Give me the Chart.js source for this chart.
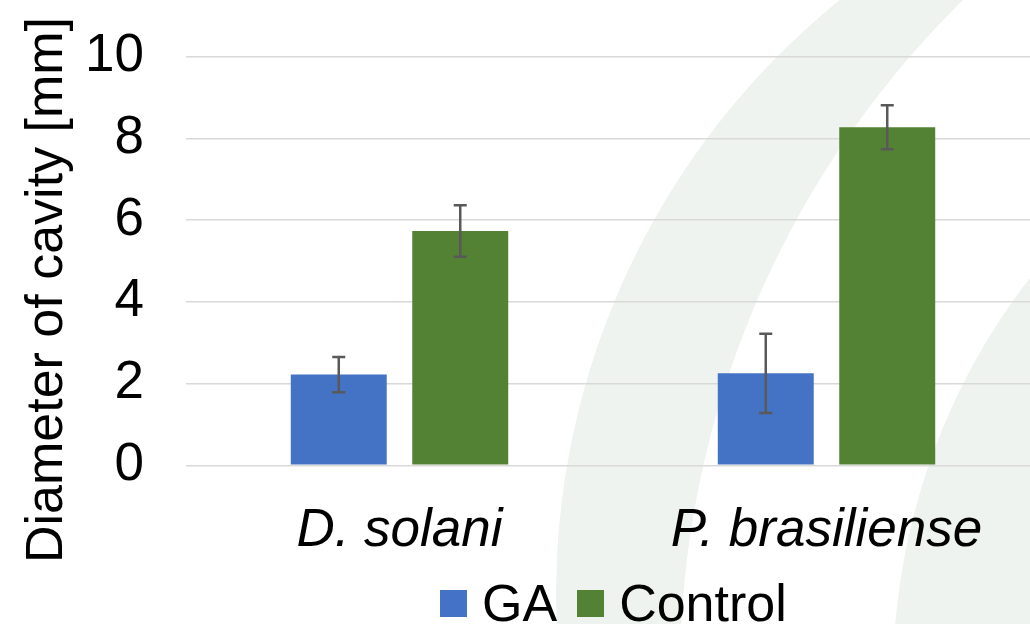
<!DOCTYPE html>
<html>
<head>
<meta charset="utf-8">
<script src="https://cdn.jsdelivr.net/npm/chart.js@4.4.1/dist/chart.umd.min.js"></script>
<style>
  html, body { margin: 0; padding: 0; background: #fff; width: 1030px; height: 624px; overflow: hidden; }
  #wrap { position: relative; width: 1040px; height: 624px; }
  #legend {
    position: absolute; left: 440px; top: 573px;
    display: flex; align-items: center;
    font-family: "Liberation Sans", Arial, sans-serif; font-size: 52px; line-height: 60px; color: #000;
  }
  #legend .item { display: flex; align-items: center; margin-right: 20px; }
  #legend .box { width: 27px; height: 27px; margin-right: 15px; }
</style>
</head>
<body>
<div id="wrap">
  <canvas id="chart" width="1040" height="624"></canvas>
  <div id="legend"></div>
</div>
<script>
// Cavity diameters (mm), mean and standard deviation per treatment
const categories = ['D. solani', 'P. brasiliense'];
const seriesNames = ['GA', 'Control'];
const gaMeans = [2.22, 2.25];
const gaErrors = [0.43, 0.97];
const controlMeans = [5.73, 8.27];
const controlErrors = [0.63, 0.54];
const yTicks = [0, 2, 4, 6, 8, 10];
const axisTitle = 'Diameter of cavity [mm]';

const seriesColors = ['#4472C4', '#548235'];
const errorSets = [gaErrors, controlErrors];
const FONT = '"Liberation Sans", Arial, sans-serif';

// Soft decorative arcs behind the plot
const backdrop = {
  id: 'backdrop',
  beforeDraw(chart) {
    const ctx = chart.ctx;
    ctx.save();
    ctx.fillStyle = '#ffffff';
    ctx.fillRect(0, 0, chart.width, chart.height);
    ctx.fillStyle = '#eef3ef';
    // crescent: inside the outer circle, outside the inner one
    ctx.save();
    ctx.beginPath();
    ctx.arc(1320, 594, 764, 0, Math.PI * 2);
    ctx.clip();
    ctx.beginPath();
    ctx.arc(1320, 594, 764, 0, Math.PI * 2);
    ctx.arc(1624, 674, 944, 0, Math.PI * 2);
    ctx.fill('evenodd');
    ctx.restore();
    // lower-right disc
    ctx.beginPath();
    ctx.arc(1547, 678, 654, 0, Math.PI * 2);
    ctx.fill();
    ctx.restore();
  }
};

// Standard-deviation whiskers on each bar
const errorBars = {
  id: 'errorBars',
  afterDatasetsDraw(chart) {
    const ctx = chart.ctx;
    const y = chart.scales.y;
    ctx.save();
    ctx.strokeStyle = '#595959';
    ctx.lineWidth = 2.5;
    chart.data.datasets.forEach((ds, i) => {
      const meta = chart.getDatasetMeta(i);
      meta.data.forEach((bar, j) => {
        const v = ds.data[j], e = errorSets[i][j];
        const top = y.getPixelForValue(v + e);
        const bot = y.getPixelForValue(v - e);
        const x = bar.x, cap = 6.5;
        ctx.beginPath();
        ctx.moveTo(x, top); ctx.lineTo(x, bot);
        ctx.moveTo(x - cap, top); ctx.lineTo(x + cap, top);
        ctx.moveTo(x - cap, bot); ctx.lineTo(x + cap, bot);
        ctx.stroke();
      });
    });
    ctx.restore();
  }
};

// Rotated value-axis caption
const yCaption = {
  id: 'yCaption',
  afterDraw(chart) {
    const ctx = chart.ctx;
    ctx.save();
    ctx.translate(62, 290);
    ctx.rotate(-Math.PI / 2);
    ctx.font = '52px ' + FONT;
    ctx.fillStyle = '#000';
    ctx.textAlign = 'center';
    ctx.textBaseline = 'alphabetic';
    ctx.fillText(axisTitle, 0, 0);
    ctx.restore();
  }
};

const chart = new Chart(document.getElementById('chart'), {
  type: 'bar',
  data: {
    labels: categories,
    datasets: [
      { label: seriesNames[0], data: gaMeans, backgroundColor: seriesColors[0] },
      { label: seriesNames[1], data: controlMeans, backgroundColor: seriesColors[1] }
    ]
  },
  options: {
    responsive: false,
    animation: false,
    layout: { padding: { top: 56.6, left: 0, right: 0, bottom: 0 } },
    datasets: { bar: { categoryPercentage: 0.569, barPercentage: 0.79 } },
    plugins: { legend: { display: false }, tooltip: { enabled: false } },
    scales: {
      x: {
        grid: { display: false },
        border: { display: false },
        ticks: { color: '#000', padding: 26, font: { family: FONT, size: 53, style: 'italic' } },
        afterFit(scale) { scale.height = 158.7; }
      },
      y: {
        min: 0, max: 10,
        afterBuildTicks(scale) { scale.ticks = yTicks.map(v => ({ value: v })); },
        grid: { color: '#d9d9d9', lineWidth: 1.5, drawTicks: true, tickLength: 42, tickColor: 'rgba(0,0,0,0)' },
        border: { display: false },
        ticks: { color: '#000', padding: 0, font: { family: FONT, size: 53 } },
        afterFit(scale) { scale.width = 186; }
      }
    }
  },
  plugins: [backdrop, errorBars, yCaption]
});

// Legend built from the datasets
const legend = document.getElementById('legend');
chart.data.datasets.forEach(ds => {
  const item = document.createElement('div');
  item.className = 'item';
  const box = document.createElement('span');
  box.className = 'box';
  box.style.background = ds.backgroundColor;
  const txt = document.createElement('span');
  txt.textContent = ds.label;
  item.appendChild(box); item.appendChild(txt);
  legend.appendChild(item);
});
</script>
</body>
</html>
